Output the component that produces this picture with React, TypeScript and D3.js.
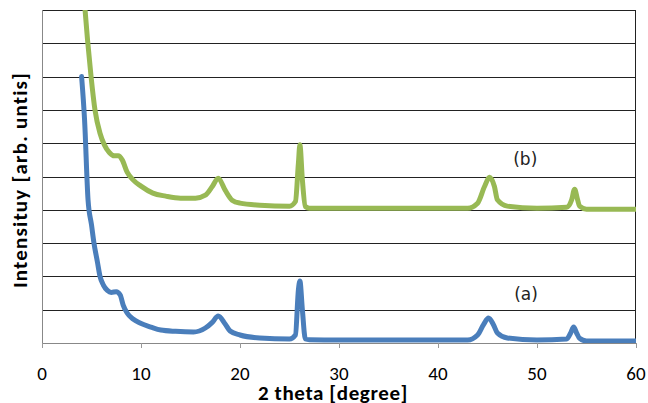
import * as d3 from 'd3';

// 2 theta positions and intensities (arbitrary units, 1 gridline = 1)
const thetaA = [4.0, 4.3, 4.65, 5.0, 5.25, 5.6, 5.86, 6.2, 6.6, 7.0, 7.5, 7.9, 8.2, 8.6, 9.2, 9.9, 11, 12, 13.5, 15.3, 16.5, 17.2, 17.8, 18.5, 19, 20, 22, 25, 25.6, 25.9, 26.05, 26.3, 26.6, 27, 30, 35, 40, 43, 44, 44.6, 45.1, 45.6, 46, 47, 50, 53, 53.4, 53.7, 54.0, 54.3, 55, 60];
const intensityA = [8.0, 6.7, 4.3, 3.55, 3.0, 2.43, 2.0, 1.74, 1.58, 1.52, 1.54, 1.44, 1.14, 0.9, 0.72, 0.6, 0.48, 0.39, 0.35, 0.33, 0.45, 0.62, 0.81, 0.57, 0.36, 0.24, 0.15, 0.12, 0.24, 1.6, 1.86, 1.0, 0.12, 0.1, 0.09, 0.09, 0.09, 0.09, 0.24, 0.55, 0.75, 0.55, 0.3, 0.15, 0.09, 0.12, 0.3, 0.48, 0.3, 0.14, 0.06, 0.06];

const thetaB = [4.35, 4.6, 4.95, 5.35, 5.86, 6.3, 6.8, 7.3, 7.7, 8.1, 8.6, 9.2, 10, 11.2, 12.5, 14, 15.5, 16.5, 17.2, 17.8, 18.5, 19.2, 20, 22, 25, 25.6, 25.9, 26.05, 26.3, 26.6, 27, 30, 35, 40, 43, 44, 44.7, 45.2, 45.7, 46, 47, 50, 53, 53.5, 53.8, 54.1, 54.3, 55, 60];
const intensityB = [10.0, 9.1, 8.02, 7.0, 6.3, 5.95, 5.72, 5.62, 5.62, 5.5, 5.13, 4.9, 4.71, 4.5, 4.41, 4.35, 4.35, 4.44, 4.7, 4.95, 4.59, 4.29, 4.2, 4.14, 4.11, 4.25, 5.4, 5.95, 4.9, 4.1, 4.05, 4.05, 4.05, 4.05, 4.05, 4.2, 4.7, 4.98, 4.7, 4.3, 4.11, 4.05, 4.08, 4.3, 4.62, 4.3, 4.11, 4.02, 4.02];

const xTicks = [0, 10, 20, 30, 40, 50, 60];
const gridValues = [0, 1, 2, 3, 4, 5, 6, 7, 8, 9, 10];

const labels = [
  { text: '(a)', x: 47.7, y: 1.29 },
  { text: '(b)', x: 47.6, y: 5.34 },
];

export default function App() {
  const width = 648;
  const height = 403;
  const marginLeft = 42;
  const marginRight = 12;
  const marginTop = 10;
  const marginBottom = 60;

  const x = d3.scaleLinear().domain([0, 60]).range([marginLeft, width - marginRight]);
  const y = d3.scaleLinear().domain([0, 10]).range([height - marginBottom, marginTop]);

  const line = d3.line<[number, number]>()
    .x(d => x(d[0]))
    .y(d => y(d[1]))
    .curve(d3.curveMonotoneX);

  const seriesA = thetaA.map((t, i) => [t, intensityA[i]] as [number, number]);
  const seriesB = thetaB.map((t, i) => [t, intensityB[i]] as [number, number]);

  const font = "Calibri, Carlito, Lato, sans-serif";

  return (
    <svg width={width} height={height} style={{ position: 'absolute', left: 0, top: 0, background: '#fff' }}>
      <defs>
        <clipPath id="plot">
          <rect x={x(0)} y={y(10)} width={x(60) - x(0)} height={y(0) - y(10)} />
        </clipPath>
      </defs>
      {gridValues.map(v => (
        <line key={v} x1={x(0)} x2={x(60)} y1={Math.round(y(v)) + 0.5} y2={Math.round(y(v)) + 0.5} stroke="#222" strokeWidth={1} />
      ))}
      <line x1={x(0) + 0.5} x2={x(0) + 0.5} y1={y(10)} y2={y(0)} stroke="#888" strokeWidth={1} />
      <line x1={x(60) - 0.5} x2={x(60) - 0.5} y1={y(10)} y2={y(0)} stroke="#222" strokeWidth={1} />
      <line x1={x(0)} x2={x(60)} y1={Math.round(y(0)) + 0.5} y2={Math.round(y(0)) + 0.5} stroke="#888" strokeWidth={1} />
      {xTicks.map(t => (
        <g key={t}>
          <line x1={Math.round(x(t)) + 0.5} x2={Math.round(x(t)) + 0.5} y1={y(0)} y2={y(0) + 5} stroke="#999" />
          <text x={x(t)} y={380} textAnchor="middle" fontFamily={font} fontSize={19} fill="#000">{t}</text>
        </g>
      ))}
      <g clipPath="url(#plot)">
        <path d={line(seriesA) ?? ''} fill="none" stroke="#4a7ebb" strokeWidth={5} strokeLinejoin="round" strokeLinecap="round" />
        <path d={line(seriesB) ?? ''} fill="none" stroke="#98b954" strokeWidth={5} strokeLinejoin="round" strokeLinecap="round" />
      </g>
      {labels.map(l => (
        <text key={l.text} x={x(l.x)} y={y(l.y)} fontFamily="'DejaVu Sans', sans-serif" fontSize={17} fontWeight="normal" fill="#222">{l.text}</text>
      ))}
      <text x={333} y={400} textAnchor="middle" fontFamily={font} fontSize={21} fontWeight="bold" letterSpacing={0.6} fill="#000">2 theta [degree]</text>
      <text transform={`translate(27,${180}) rotate(-90)`} textAnchor="middle" fontFamily={font} fontSize={21} fontWeight="bold" letterSpacing={1.2} fill="#000">Intensituy [arb. untis]</text>
    </svg>
  );
}
